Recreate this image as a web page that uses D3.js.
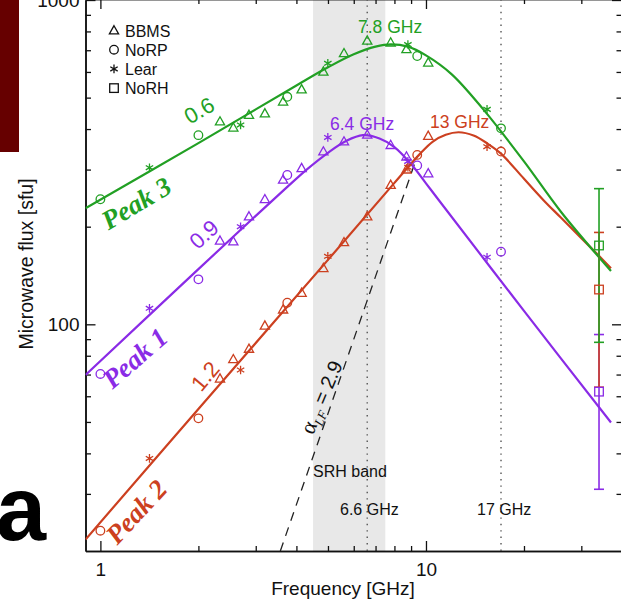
<!DOCTYPE html>
<html>
<head>
<meta charset="utf-8">
<script src="https://cdn.jsdelivr.net/npm/d3@7"></script>
<style>
  body { margin: 0; background: #fff; }
  svg { display: block; font-family: "Liberation Sans", Arial, Helvetica, sans-serif; }
</style>
</head>
<body>
<svg id="chart" width="621" height="600"></svg>
<script>
// ---- Fitted spectra: [frequency GHz, flux sfu] ----
const fitPeak1 = [[0.9,69.8],[2.0,148],[3.0,216],[3.7,262],[4.3,300],[5.0,338],[5.7,368],[6.4,383],[7.2,374],[8.0,352],[9.0,312],[10.0,272],[11.0,240],[20,110],[37,49.8]];
const fitPeak2 = [[0.9,21.7],[2.0,54.8],[5.0,158],[8.0,273],[9.6,336],[10.5,366],[11.5,384],[12.6,391],[14,382],[15.5,360],[17,336],[20,281],[23,241],[26,213],[34.1,162],[37,149]];
const fitPeak3 = [[0.9,228],[2.0,362],[3.0,460],[4.0,545],[5.0,620],[6.0,680],[7.0,718],[7.8,730],[8.8,718],[10,675],[12,590],[15,460],[20,318],[26,222],[37,146]];

// ---- Observations ----
const bbmsFreq  = [2.33, 2.56, 2.86, 3.2, 3.64, 4.15, 4.84, 5.6, 6.6, 7.79, 8.71, 10.16];
const bbmsPeak1 = [181, 180, 215, 243, 279, 303, 341, 366, 384, 357, 329, 292];
const bbmsPeak2 = [68, 78, 84, 99, 111, 125, 149, 179, 215, 269, 300, 381];
const bbmsPeak3 = [422, 404, 442, 447, 486, 530, 601, 685, 749, 739, 705, 641];

const norpFreq  = [1, 2, 3.75, 9.4, 17];
const norpPeak1 = [70.3, 137.6, 288.7, 309, 167.4];
const norpPeak2 = [23.1, 51.3, 116.6, 333, 341];
const norpPeak3 = [243, 383, 503, 672, 402];

const learFreq  = [1.415, 2.695, 4.995, 8.8, 15.4];
const learPeak1 = [112, 200, 377, 318, 161];
const learPeak2 = [38.6, 72.3, 162, 305, 353];
const learPeak3 = [304, 412, 638, 729, 460];

const norhFreq  = [34];
const norhPeak1 = [62],  norhErr1 = [31];
const norhPeak2 = [128], norhErr2 = [64];
const norhPeak3 = [175], norhErr3 = [87];

// Reference power law alpha_LF = 2.9 (two end points)
const alphaLine = [[3.57, 20], [9.4, 330]];
// SRH observing band and marked frequencies
const srhBand = [4.5, 7.5];
const markedFreqs = [6.6, 17];

// Axis ticks
const xMajor = [1, 10];
const xMinor = [2, 3, 4, 5, 6, 7, 8, 9, 20, 30];
const yMajor = [100, 1000];
const yMinor = [30, 40, 50, 60, 70, 80, 90, 200, 300, 400, 500, 600, 700, 800, 900];

const colors = { p1: "#8a2be6", p2: "#cc4020", p3: "#22a024" };

// ---- Layout ----
const svg = d3.select("#chart");
const x = d3.scaleLog().domain([0.9, 40]).range([85.5, 622]);
const y = d3.scaleLog().domain([20, 1000]).range([551, 0]);
const plotLeft = x.range()[0], plotRight = x.range()[1];
const plotBottom = y.range()[0], plotTop = -1;

// figure-panel decorations
svg.append("rect").attr("x", 0).attr("y", 0).attr("width", 19).attr("height", 152).attr("fill", "#660000");
svg.append("text").attr("x", -4).attr("y", 540).attr("font-size", 90).attr("font-weight", "bold")
  .attr("fill", "#000").text("a");

const defs = svg.append("defs");
defs.append("clipPath").attr("id", "plotclip").append("rect")
  .attr("x", plotLeft).attr("y", plotTop).attr("width", plotRight - plotLeft).attr("height", plotBottom - plotTop);

// SRH band
svg.append("rect")
  .attr("x", x(srhBand[0])).attr("y", plotTop)
  .attr("width", x(srhBand[1]) - x(srhBand[0])).attr("height", plotBottom - plotTop)
  .attr("fill", "#e8e8e8");

// dotted frequency markers
svg.selectAll("line.mark").data(markedFreqs).join("line")
  .attr("class", "mark")
  .attr("x1", d => x(d)).attr("x2", d => x(d))
  .attr("y1", plotTop).attr("y2", plotBottom)
  .attr("stroke", "#555").attr("stroke-width", 1.4)
  .attr("stroke-dasharray", "1.4,5");

// ---- Axes ----
function styleAxis(g) {
  g.selectAll("path.domain").attr("stroke", "#111").attr("stroke-width", 1.5);
  g.selectAll(".tick line").attr("stroke", "#111").attr("stroke-width", 1.3);
  g.selectAll(".tick text").attr("fill", "#111").attr("font-size", 19)
    .attr("font-family", "Liberation Sans, Arial, sans-serif");
}
const fmt = d => String(d);

svg.append("g").attr("transform", `translate(0,${plotBottom})`)
  .call(d3.axisBottom(x).tickValues(xMajor).tickFormat(fmt).tickSizeInner(-10).tickSizeOuter(0).tickPadding(12))
  .call(styleAxis);
svg.append("g").attr("transform", `translate(0,${plotBottom})`)
  .call(d3.axisBottom(x).tickValues(xMinor).tickFormat("").tickSizeInner(-5).tickSizeOuter(0))
  .call(styleAxis);
svg.append("g").attr("transform", `translate(0,${plotTop})`)
  .call(d3.axisTop(x).tickValues(xMajor).tickFormat("").tickSizeInner(-10).tickSizeOuter(0))
  .call(styleAxis);
svg.append("g").attr("transform", `translate(0,${plotTop})`)
  .call(d3.axisTop(x).tickValues(xMinor).tickFormat("").tickSizeInner(-5).tickSizeOuter(0))
  .call(styleAxis);

svg.append("g").attr("transform", `translate(${plotLeft},0)`)
  .call(d3.axisLeft(y).tickValues(yMajor).tickFormat(fmt).tickSizeInner(-10).tickSizeOuter(0).tickPadding(6))
  .call(styleAxis);
svg.append("g").attr("transform", `translate(${plotLeft},0)`)
  .call(d3.axisLeft(y).tickValues(yMinor).tickFormat("").tickSizeInner(-5.5).tickSizeOuter(0))
  .call(styleAxis);
svg.append("g").attr("transform", `translate(${plotRight},0)`)
  .call(d3.axisRight(y).tickValues(yMajor).tickFormat("").tickSizeInner(-10).tickSizeOuter(0))
  .call(styleAxis);
svg.append("g").attr("transform", `translate(${plotRight},0)`)
  .call(d3.axisRight(y).tickValues(yMinor).tickFormat("").tickSizeInner(-5.5).tickSizeOuter(0))
  .call(styleAxis);

// axis titles
svg.append("text").attr("x", 343).attr("y", 595).attr("text-anchor", "middle")
  .attr("font-size", 19).attr("fill", "#111").text("Frequency [GHz]");
svg.append("text").attr("transform", "translate(33,264) rotate(-90)").attr("text-anchor", "middle")
  .attr("font-size", 19.5).attr("fill", "#111").text("Microwave flux [sfu]");

// ---- Plot content ----
const plot = svg.append("g").attr("clip-path", "url(#plotclip)");

// alpha_LF reference line
plot.append("path")
  .attr("d", d3.line().x(d => x(d[0])).y(d => y(d[1]))(alphaLine))
  .attr("fill", "none").attr("stroke", "#222").attr("stroke-width", 1.3)
  .attr("stroke-dasharray", "9,7");

// fitted curves
const curve = d3.line().x(d => x(d[0])).y(d => y(d[1])).curve(d3.curveCatmullRom.alpha(0.5));
[[fitPeak1, colors.p1], [fitPeak2, colors.p2], [fitPeak3, colors.p3]].forEach(([pts, c]) => {
  plot.append("path").attr("d", curve(pts)).attr("fill", "none")
    .attr("stroke", c).attr("stroke-width", 2.2);
});

// marker drawing
function drawMarker(g, type, cx, cy, color) {
  const sw = 1.3;
  if (type === "tri") {
    g.append("path").attr("d", `M${cx},${cy - 4.8}L${cx + 4.6},${cy + 3.4}L${cx - 4.6},${cy + 3.4}Z`)
      .attr("fill", "none").attr("stroke", color).attr("stroke-width", sw);
  } else if (type === "circ") {
    g.append("circle").attr("cx", cx).attr("cy", cy).attr("r", 4.3)
      .attr("fill", "none").attr("stroke", color).attr("stroke-width", sw);
  } else if (type === "star") {
    const r = 4.3, dx = 3.7, dy = 2.2;
    g.append("path").attr("d",
      `M${cx},${cy - r}V${cy + r}M${cx - dx},${cy - dy}L${cx + dx},${cy + dy}M${cx - dx},${cy + dy}L${cx + dx},${cy - dy}`)
      .attr("fill", "none").attr("stroke", color).attr("stroke-width", sw);
  } else if (type === "sq") {
    g.append("rect").attr("x", cx - 4.3).attr("y", cy - 4.3).attr("width", 8.6).attr("height", 8.6)
      .attr("fill", "none").attr("stroke", color).attr("stroke-width", sw);
  }
}

// NoRH error bars (purple, red, green drawn in that order)
const caps = 5;
[[norhPeak1, norhErr1, colors.p1], [norhPeak2, norhErr2, colors.p2], [norhPeak3, norhErr3, colors.p3]]
  .forEach(([vals, errs, c]) => {
    vals.forEach((v, i) => {
      const fx = x(norhFreq[i]);
      const y1 = y(v + errs[i]), y2 = y(v - errs[i]);
      plot.append("line").attr("x1", fx).attr("x2", fx).attr("y1", y1).attr("y2", y2)
        .attr("stroke", c).attr("stroke-width", 1.6);
      [y1, y2].forEach(yy => plot.append("line").attr("x1", fx - caps).attr("x2", fx + caps)
        .attr("y1", yy).attr("y2", yy).attr("stroke", c).attr("stroke-width", 1.6));
    });
  });

const series = [
  { freq: bbmsFreq, vals: [bbmsPeak1, bbmsPeak2, bbmsPeak3], type: "tri" },
  { freq: norpFreq, vals: [norpPeak1, norpPeak2, norpPeak3], type: "circ" },
  { freq: learFreq, vals: [learPeak1, learPeak2, learPeak3], type: "star" },
  { freq: norhFreq, vals: [norhPeak1, norhPeak2, norhPeak3], type: "sq" }
];
const peakColors = [colors.p1, colors.p2, colors.p3];
const markers = svg.append("g");
series.forEach(s => {
  s.vals.forEach((arr, k) => {
    arr.forEach((v, i) => {
      if (v == null) return;
      drawMarker(markers, s.type, x(s.freq[i]), y(v), peakColors[k]);
    });
  });
});

// ---- Legend ----
const legendItems = [["tri", "BBMS"], ["circ", "NoRP"], ["star", "Lear"], ["sq", "NoRH"]];
const legend = svg.append("g");
legendItems.forEach(([t, name], i) => {
  const ly = 30.5 + i * 19.2;
  drawMarker(legend, t, 114, ly, "#111");
  legend.append("text").attr("x", 125).attr("y", ly + 6).attr("font-size", 16)
    .attr("fill", "#111").text(name);
});

// ---- Annotations ----
function label(txt, xx, yy, color, size, rot, anchor, family, weight, style) {
  const t = svg.append("text")
    .attr("transform", `translate(${xx},${yy}) rotate(${rot || 0})`)
    .attr("text-anchor", anchor || "start")
    .attr("font-size", size).attr("fill", color).text(txt);
  if (family) t.attr("font-family", family);
  if (weight) t.attr("font-weight", weight);
  if (style) t.attr("font-style", style);
  return t;
}
label("7.8 GHz", 358, 33, colors.p3, 17.5);
label("6.4 GHz", 330, 130, colors.p1, 17.5);
label("13 GHz", 430, 128, colors.p2, 17.5);

label("0.6", 203, 117, colors.p3, 22, -30, "middle");
label("0.9", 209, 240, colors.p1, 22, -42, "middle");
label("1.2", 211, 381, colors.p2, 22, -50, "middle");

const serif = "Liberation Serif, 'Times New Roman', serif";
label("Peak 3", 141, 211, colors.p3, 27, -31, "middle", serif, "bold", "italic");
label("Peak 1", 141, 365, colors.p1, 27, -41, "middle", serif, "bold", "italic");
label("Peak 2", 143, 518, colors.p2, 27, -47, "middle", serif, "bold", "italic");

label("SRH band", 313, 477, "#111", 16);
label("6.6 GHz", 340, 515, "#111", 16);
label("17 GHz", 477, 515, "#111", 16);

const alpha = svg.append("text")
  .attr("transform", "translate(328,400) rotate(-67)")
  .attr("text-anchor", "middle").attr("font-size", 20).attr("fill", "#111");
alpha.append("tspan").attr("font-family", serif).attr("font-size", 22).text("α");
alpha.append("tspan").attr("font-family", serif).attr("font-style", "italic").attr("font-size", 13)
  .attr("dy", 5).text("LF");
alpha.append("tspan").attr("dy", -5).text(" = 2.9");
</script>
</body>
</html>
